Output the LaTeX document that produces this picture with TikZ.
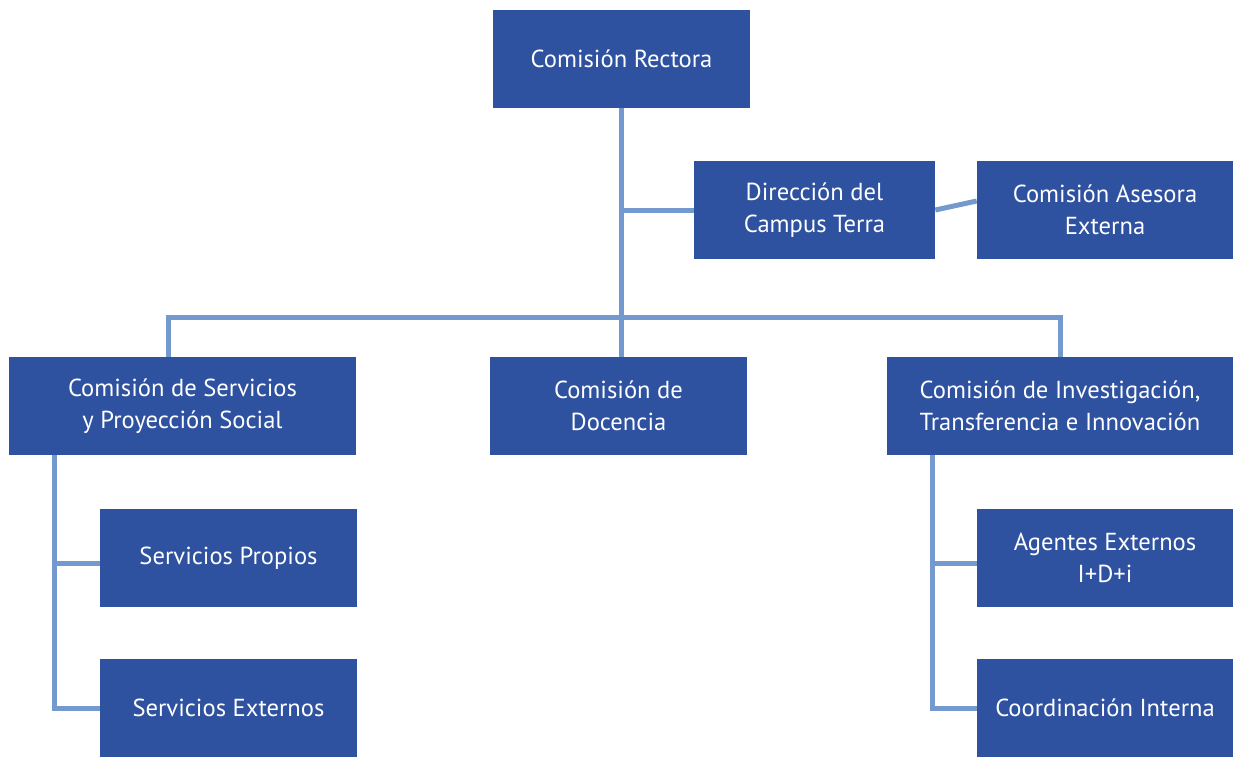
\documentclass[tikz,border=0pt]{standalone}
\usepackage{fontspec}
\setmainfont{PT Sans}
\usepackage{tikz}

\definecolor{boxblue}{HTML}{2E51A0}
\definecolor{linkblue}{HTML}{7399CF}

\begin{document}
\begin{tikzpicture}
  [x=0.02cm, y=-0.02cm,
  unit/.style={fill=boxblue, text=white, align=center,
    minimum width=5.14cm, minimum height=1.96cm, inner sep=0pt,
    font=\fontsize{14}{18.3}\selectfont},
  wide/.style={unit, minimum width=6.94cm},
  link/.style={draw=linkblue, line width=0.1cm}]
  \useasboundingbox (0,0) rectangle (1233,757);

  % top level
  \node[unit] (rect) at (621.5,59) {Comisión Rectora};
  \node[unit, minimum width=4.82cm] (dir) at (814.5,210) {Dirección del\\Campus Terra};
  \node[unit, minimum width=5.12cm] (ase) at (1105,210) {Comisión Asesora\\Externa};

  % commissions
  \node[wide] (serv) at (182.5,406) {Comisión de Servicios\\y Proyección Social};
  \node[unit] (doc) at (618.5,406) {Comisión de\\Docencia};
  \node[wide] (inv) at (1060,406) {Comisión de Investigación,\\Transferencia e Innovación};

  % sub units
  \node[unit] (sprop) at (228.5,558) {Servicios Propios};
  \node[unit] (sext) at (228.5,708) {Servicios Externos};
  \node[unit, minimum width=5.12cm] (agen) at (1105,558) {Agentes Externos\\I+D+i};
  \node[unit, minimum width=5.12cm] (coord) at (1105,708) {Coordinación Interna};

  \coordinate (bus) at (168,317);

  \draw[link] (rect.south) -- (rect.south |- doc.north);
  \draw[link] (rect.south |- dir.west) -- (dir.west);
  \draw[link] (dir.east) -- ([yshift=0.18cm]ase.west);
  \draw[link] (bus |- serv.north) -- (bus) -| (inv.north);
  \draw[link] ([xshift=-2.57cm]serv.south) |- ([yshift=-0.1cm]sprop.west);
  \draw[link] ([xshift=-2.57cm]serv.south) |- (sext.west);
  \draw[link] ([xshift=-2.56cm]inv.south) |- ([yshift=-0.1cm]agen.west);
  \draw[link] ([xshift=-2.56cm]inv.south) |- (coord.west);
\end{tikzpicture}
\end{document}
